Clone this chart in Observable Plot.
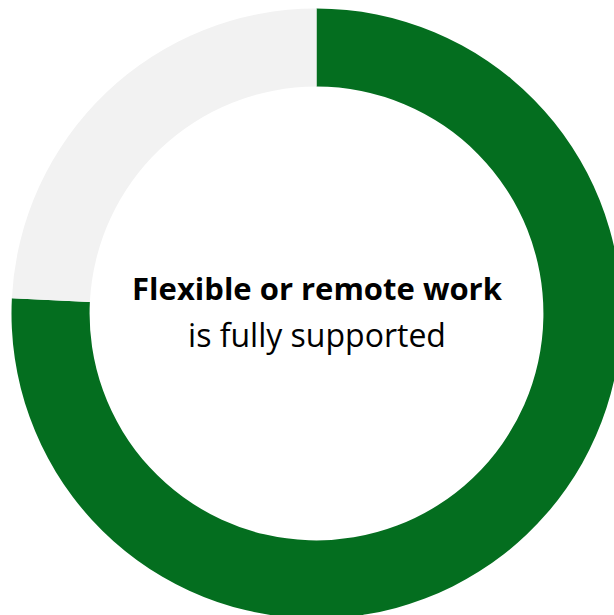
<!DOCTYPE html>
<html>
<head>
<meta charset="utf-8">
<script src="https://cdn.jsdelivr.net/npm/d3@7"></script>
<script src="https://cdn.jsdelivr.net/npm/@observablehq/plot@0.6"></script>
<style>
  html, body { margin: 0; padding: 0; background: #ffffff; }
  #chart svg { display: block; }
</style>
</head>
<body>
<div id="chart"></div>
<script>
// Data
const categories = ["Fully supported", "Other"];
const values = [75.8, 24.2];
const colors = ["#046e1f", "#f2f2f2"];
const titleBold = "Flexible or remote work";
const titleRegular = "is fully supported";

const data = categories.map((c, i) => ({category: c, value: values[i]}));
const innerRatio = 0.744;

const cx = 316.5, cy = 313.5, R = 305;

function donut(index, scales, values_, dimensions, context) {
  const x = scales.x, y = scales.y, color = scales.color;
  const X = x(0), Y = y(0);
  const outer = x(1) - x(0);
  const inner = outer * innerRatio;
  const pie = d3.pie().value(d => d.value).sort(null).startAngle(0).endAngle(2 * Math.PI);
  const arc = d3.arc().innerRadius(inner).outerRadius(outer);
  const g = d3.create("svg:g").attr("transform", `translate(${X},${Y})`);
  g.selectAll("path")
    .data(pie(data))
    .join("path")
    .attr("d", arc)
    .attr("fill", d => color(d.data.category));
  return g.node();
}

const plot = Plot.plot({
  width: 614,
  height: 615,
  margin: 0,
  style: {background: "#ffffff", overflow: "hidden"},
  x: {domain: [-1, 1], range: [cx - R, cx + R], axis: null},
  y: {domain: [-1, 1], range: [cy + R, cy - R], axis: null},
  color: {domain: categories, range: colors},
  marks: [
    donut,
    Plot.text([titleBold], {
      x: () => 0, y: () => 0, text: d => d,
      textAnchor: "middle", lineAnchor: "bottom", dy: -14.5,
      fontSize: 31, fontWeight: "bold", fill: "#000000",
      fontFamily: "'Open Sans', sans-serif"
    }),
    Plot.text([titleRegular], {
      x: () => 0, y: () => 0, text: d => d,
      textAnchor: "middle", lineAnchor: "bottom", dy: 32.5,
      fontSize: 32, fill: "#000000",
      fontFamily: "'Open Sans', sans-serif"
    })
  ]
});
document.getElementById("chart").appendChild(plot);
</script>
</body>
</html>
